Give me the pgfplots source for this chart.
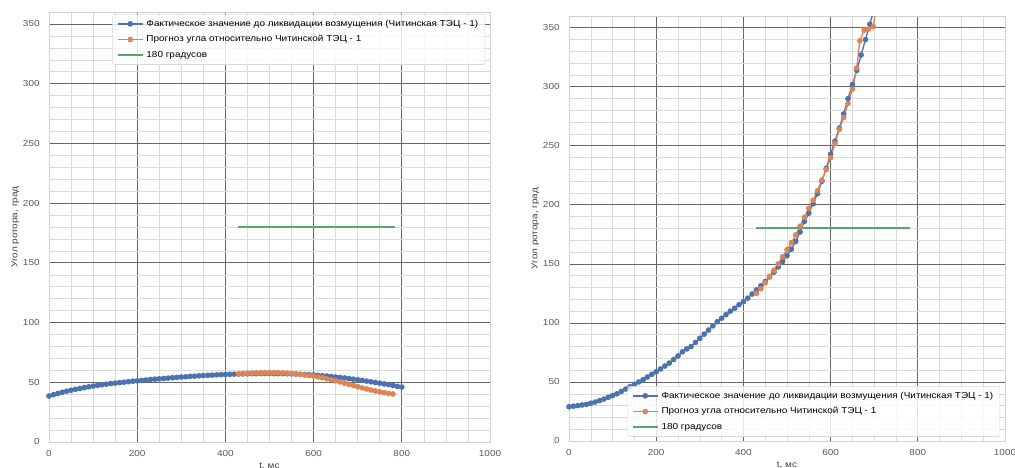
\documentclass[border=0pt]{standalone}
\usepackage{fontspec}
\setmainfont{Liberation Sans}[FakeStretch=1.15]
\usepackage{pgfplots}
\pgfplotsset{compat=1.18}
\definecolor{sbBlue}{HTML}{4C72B0}
\definecolor{sbOrange}{HTML}{DD8452}
\definecolor{sbGreen}{HTML}{55A868}
\newcommand{\chartfont}{\fontsize{6.5}{7.8}\selectfont}

\pgfplotsset{
  rotor/.style={
    scale only axis,
    xmin=0, xmax=1000, ymin=0, ymax=360,
    xtick={0,200,...,1000}, ytick={0,50,...,350},
    minor x tick num=3, minor y tick num=4,
    grid=both,
    major grid style={line width=0.6pt, color=black!60},
    minor grid style={line width=0.4pt, color=black!14},
    axis line style={black!18},
    tick style={draw=none},
    /pgf/number format/assume math mode=true,
    /pgf/number format/set thousands separator={},
    ticklabel style={font=\chartfont, text=black!65},
    xticklabel style={yshift=-3pt},
    yticklabel style={xshift=-3.5pt},
    label style={font=\chartfont, text=black!75},
    xlabel={t, мс}, ylabel={Угол ротора, град},
    xlabel style={yshift=2pt},
    ylabel shift=-4pt,
    legend style={font=\chartfont, draw=black!15, fill=white, fill opacity=0.8,
      text opacity=1, draw opacity=1, rounded corners=1.5pt, cells={anchor=west},
      row sep=1.5pt, inner xsep=3pt, inner ysep=2pt},
    legend cell align=left,
    legend image code/.code={
      \draw[mark repeat=2, mark phase=2, #1]
        plot coordinates {(0cm,0cm) (0.33cm,0cm) (0.66cm,0cm)};},
  },
  blueline/.style={sbBlue, line width=1pt, mark=*, mark size=1.6pt},
  orangeline/.style={sbOrange, line width=1pt, mark=*, mark size=1.6pt},
  greenline/.style={sbGreen, line width=1.5pt},
}

\begin{document}
\begin{tikzpicture}
  % left: stable case
  \begin{axis}[rotor, at={(36.75pt,19.5pt)}, width=330.75pt, height=322.5pt,
      legend style={at={(0.989,0.995)}, anchor=north east}]
    \addplot[blueline] coordinates {
      (0,38.5)(10,39.6)(20,40.6)(30,41.6)(40,42.5)(50,43.3)(60,44.1)(70,44.8)(80,45.5)(90,46.2)
      (100,46.8)(110,47.4)(120,47.9)(130,48.4)(140,48.9)(150,49.3)(160,49.7)(170,50.1)(180,50.5)(190,50.9)
      (200,51.2)(210,51.6)(220,51.9)(230,52.3)(240,52.6)(250,52.9)(260,53.2)(270,53.5)(280,53.8)(290,54.1)
      (300,54.4)(310,54.6)(320,54.9)(330,55.1)(340,55.4)(350,55.6)(360,55.8)(370,56.0)(380,56.2)(390,56.4)
      (400,56.5)(410,56.7)(420,56.8)(430,56.9)(440,57.0)(450,57.1)(460,57.2)(470,57.2)(480,57.3)(490,57.3)
      (500,57.3)(510,57.3)(520,57.2)(530,57.2)(540,57.1)(550,57.0)(560,56.9)(570,56.7)(580,56.5)(590,56.3)
      (600,56.1)(610,55.8)(620,55.5)(630,55.2)(640,54.8)(650,54.4)(660,54.0)(670,53.6)(680,53.1)(690,52.6)
      (700,52.1)(710,51.6)(720,51.0)(730,50.4)(740,49.8)(750,49.2)(760,48.6)(770,48.0)(780,47.3)(790,46.6)
      (800,46.0)};
    \addlegendentry{Фактическое значение до ликвидации возмущения (Читинская ТЭЦ - 1)}
    \addplot[orangeline] coordinates {
      (430,57.0)(440,57.3)(450,57.5)(460,57.7)(470,57.8)(480,57.9)(490,58.0)(500,58.0)(510,58.0)(520,57.9)
      (530,57.8)(540,57.6)(550,57.3)(560,57.0)(570,56.6)(580,56.1)(590,55.6)(600,55.2)(610,54.5)(620,53.8)
      (630,53.0)(640,52.1)(650,51.2)(660,50.3)(670,49.3)(680,48.3)(690,47.3)(700,46.3)(710,45.3)(720,44.4)
      (730,43.5)(740,42.7)(750,42.0)(760,41.3)(770,40.7)(780,40.2)};
    \addlegendentry{Прогноз угла относительно Читинской ТЭЦ - 1}
    \addplot[greenline] coordinates {(428,180)(784,180)};
    \addlegendentry{180 градусов}
  \end{axis}

  % right: unstable case
  \begin{axis}[rotor, at={(426.75pt,20.25pt)}, width=327pt, height=318.75pt,
      legend style={at={(0.989,0.01)}, anchor=south east}]
    \addplot[blueline] coordinates {
      (0,29.0)(10,29.5)(20,30.0)(30,30.5)(40,31.0)(50,32.0)(60,33.0)(70,34.2)(80,35.5)(90,37.0)
      (100,38.5)(110,40.0)(120,42.0)(130,44.0)(140,46.0)(150,48.0)(160,50.0)(170,52.0)(180,54.2)(190,56.5)
      (200,58.7)(210,61.0)(220,63.5)(230,66.0)(240,69.0)(250,72.0)(260,75.5)(270,78.0)(280,80.0)(290,83.5)
      (300,87.0)(310,90.5)(320,94.0)(330,97.5)(340,101.0)(350,104.0)(360,107.0)(370,110.0)(380,112.5)(390,115.5)
      (400,118.0)(410,121.0)(420,124.5)(430,128.0)(440,131.5)(450,135.0)(460,139.0)(470,143.0)(480,147.5)(490,152.0)
      (500,157.0)(510,162.5)(520,169.0)(530,177.0)(540,186.0)(550,193.0)(560,201.0)(570,209.5)(580,220.0)(590,231.0)
      (600,243.0)(610,254.0)(620,265.0)(630,277.0)(640,290.0)(650,302.0)(660,314.0)(670,327.0)(680,340.0)(690,353.0)
      (700,366.0)};
    \addlegendentry{Фактическое значение до ликвидации возмущения (Читинская ТЭЦ - 1)}
    \addplot[orangeline] coordinates {
      (430,125.0)(440,129.0)(450,134.0)(460,139.5)(470,144.5)(480,150.0)(490,156.0)(500,162.0)(510,168.0)(520,174.5)
      (530,182.0)(540,189.5)(550,197.0)(560,204.0)(570,212.0)(580,221.0)(590,230.0)(600,240.0)(610,252.0)(620,264.0)
      (630,274.0)(640,286.0)(650,298.0)(660,316.0)(667,339.0)(677,348.0)(687,349.0)(698,351.0)(708,378.0)};
    \addlegendentry{Прогноз угла относительно Читинской ТЭЦ - 1}
    \addplot[greenline] coordinates {(428,180)(782,180)};
    \addlegendentry{180 градусов}
  \end{axis}

  \pgfresetboundingbox
  \path[use as bounding box] (0,0) rectangle (761.25pt,351pt);
\end{tikzpicture}
\end{document}
